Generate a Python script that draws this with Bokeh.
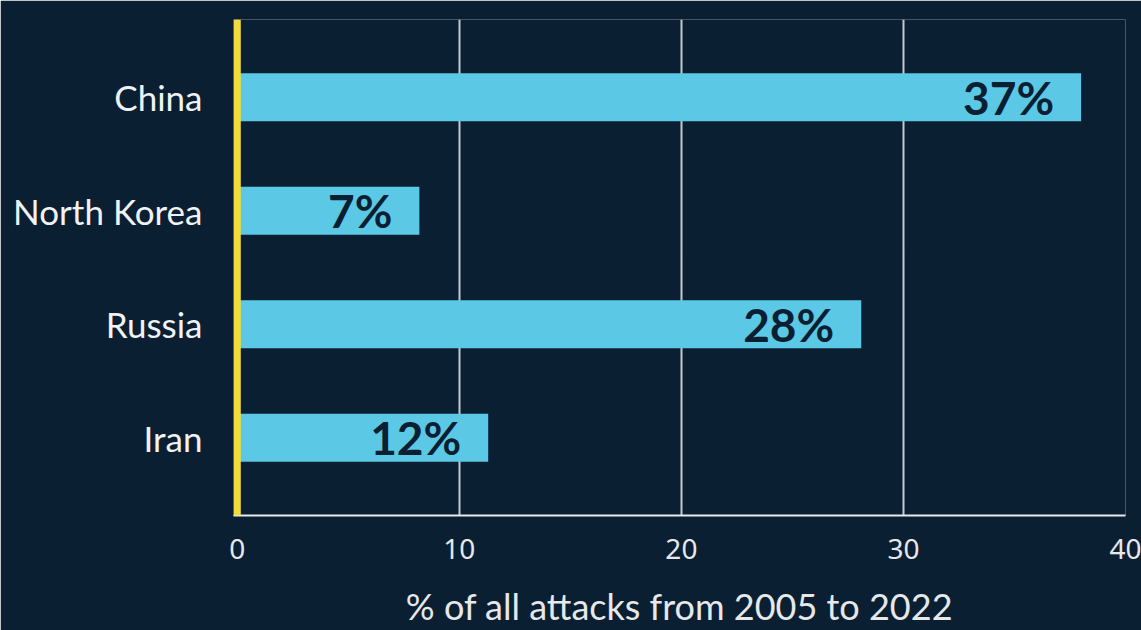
from bokeh.plotting import figure
from bokeh.models import Range1d, FactorRange, Span, ColumnDataSource, FixedTicker, LabelSet
from bokeh.core.properties import value
from bokeh.embed import file_html
from bokeh.resources import INLINE

countries = ["China", "North Korea", "Russia", "Iran"]
shares = [38.0, 8.2, 28.1, 11.3]
labels = ["37%", "7%", "28%", "12%"]
x_ticks = [0, 10, 20, 30, 40]

BG = "#0b1f33"
BAR = "#5bc8e5"
YEL = "#f2dc3c"

src = ColumnDataSource(dict(country=countries, share=shares, label=labels))

p = figure(width=1141, height=630, output_backend="svg", toolbar_location=None,
           x_range=Range1d(-0.17, 40),
           y_range=FactorRange(factors=list(reversed(countries)), range_padding=0.092),
           min_border_left=233, min_border_right=16, min_border_top=19, min_border_bottom=0)
p.background_fill_color = BG
p.border_fill_color = BG
p.outline_line_color = None

p.hbar(y="country", right="share", left=0, height=0.423, source=src,
       fill_color=BAR, line_color=None)

p.add_layout(LabelSet(x="share", y="country", text="label", source=src,
                      text_align="right", text_baseline="middle", x_offset=-27,
                      text_font=value("Lato"), text_font_style="bold",
                      text_font_size="46px", text_color=BG))

p.add_layout(Span(location=0, dimension="height", line_color=YEL, line_width=7))

p.xgrid.ticker = FixedTicker(ticks=x_ticks)
p.xgrid.grid_line_color = "#c5c9cd"
p.xgrid.grid_line_width = 2
p.ygrid.grid_line_color = None

p.xaxis.ticker = FixedTicker(ticks=x_ticks)
p.xaxis.axis_line_color = "#e8eaec"
p.xaxis.axis_line_width = 2
p.xaxis.major_tick_line_color = None
p.xaxis.minor_tick_line_color = None
p.xaxis.major_label_standoff = 17
p.xaxis.major_label_text_font = "Noto Sans"
p.xaxis.major_label_text_font_size = "28px"
p.xaxis.major_label_text_color = "#e6e8ea"
p.xaxis.axis_label = "% of all attacks from 2005 to 2022"
p.xaxis.axis_label_text_font = "Lato"
p.xaxis.axis_label_text_font_style = "normal"
p.xaxis.axis_label_text_font_size = "36px"
p.xaxis.axis_label_text_color = "#e6e8ea"
p.xaxis.axis_label_standoff = 22

p.yaxis.axis_line_color = None
p.yaxis.major_tick_line_color = None
p.yaxis.minor_tick_line_color = None
p.yaxis.major_label_standoff = 25
p.yaxis.major_label_text_font = "Lato"
p.yaxis.major_label_text_font_size = "35px"
p.yaxis.major_label_text_color = "#f0f2f4"

open("out.html", "w").write(file_html(p, INLINE))
